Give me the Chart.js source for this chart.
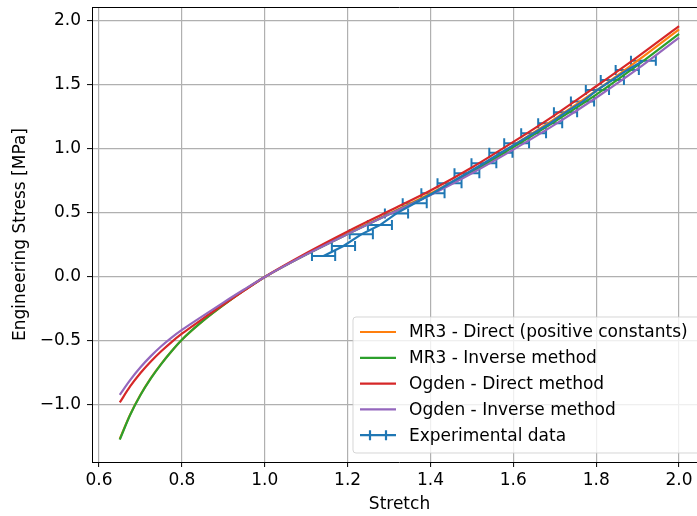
<!DOCTYPE html>
<html>
<head>
<meta charset="utf-8">
<script src="https://cdn.jsdelivr.net/npm/chart.js@4.4.1/dist/chart.umd.min.js"></script>
<style>
  body { margin: 0; overflow: hidden; background: #fff; }
  #wrap { width: 697px; height: 516px; overflow: hidden; position: relative; }
</style>
</head>
<body>
<div id="wrap"><canvas id="stressChart" width="712" height="516"></canvas></div>
<script>
// model curves
const stretch      = [0.65, 0.675, 0.70, 0.725, 0.75, 0.775, 0.80, 0.85, 0.90, 0.95, 1.00, 1.10, 1.20, 1.30, 1.40, 1.50, 1.60, 1.70, 1.80, 1.90, 2.00];
const mr3Direct    = [-1.265, -1.075, -0.92, -0.79, -0.679, -0.58, -0.49, -0.345, -0.22, -0.105, 0, 0.178, 0.34, 0.495, 0.652, 0.83, 1.028, 1.235, 1.455, 1.69, 1.935];
const mr3Inverse   = [-1.27, -1.078, -0.922, -0.792, -0.68, -0.58, -0.49, -0.345, -0.22, -0.105, 0, 0.175, 0.335, 0.49, 0.645, 0.82, 1.015, 1.215, 1.425, 1.655, 1.90];
const ogdenDirect  = [-0.98, -0.855, -0.75, -0.66, -0.58, -0.508, -0.443, -0.327, -0.215, -0.106, 0, 0.185, 0.355, 0.515, 0.675, 0.855, 1.055, 1.265, 1.49, 1.72, 1.96];
const ogdenInverse = [-0.92, -0.805, -0.705, -0.618, -0.541, -0.473, -0.413, -0.305, -0.20, -0.098, 0, 0.175, 0.335, 0.49, 0.64, 0.81, 0.995, 1.19, 1.40, 1.625, 1.87];

// experimental points with horizontal error
const expStretch = [1.142, 1.190, 1.233, 1.278, 1.318, 1.362, 1.406, 1.446, 1.488, 1.529, 1.570, 1.608, 1.649, 1.689, 1.726, 1.767, 1.803, 1.839, 1.875, 1.914];
const expStress  = [0.164, 0.242, 0.333, 0.406, 0.497, 0.576, 0.654, 0.732, 0.810, 0.889, 0.971, 1.044, 1.123, 1.201, 1.286, 1.370, 1.461, 1.539, 1.617, 1.690];
const expErr     = [0.028, 0.028, 0.028, 0.029, 0.028, 0.029, 0.028, 0.029, 0.030, 0.030, 0.028, 0.030, 0.030, 0.029, 0.028, 0.028, 0.028, 0.028, 0.028, 0.030];

const FONT = 'DejaVu Sans';
const FSIZE = 17;
const BLUE = '#1f77b4';

function pts(xs, ys) {
    return xs.map((x, i) => ({ x: x, y: ys[i] }));
}

function curve(label, values, color, order) {
    return {
        label: label,
        data: pts(stretch, values),
        borderColor: color,
        backgroundColor: color,
        borderWidth: 2.2,
        pointRadius: 0,
        cubicInterpolationMode: 'monotone',
        order: order
    };
}

// horizontal error bars with caps, drawn under the lines
const errorBars = {
    id: 'errorBars',
    beforeDatasetsDraw(chart) {
        const ctx = chart.ctx;
        const xs = chart.scales.x, ys = chart.scales.y;
        ctx.save();
        ctx.strokeStyle = BLUE;
        ctx.lineWidth = 2;
        for (let i = 0; i < expStretch.length; i++) {
            const x1 = xs.getPixelForValue(expStretch[i] - expErr[i]);
            const x2 = xs.getPixelForValue(expStretch[i] + expErr[i]);
            const y = ys.getPixelForValue(expStress[i]);
            ctx.beginPath();
            ctx.moveTo(x1, y); ctx.lineTo(x2, y);
            ctx.moveTo(x1, y - 5); ctx.lineTo(x1, y + 5);
            ctx.moveTo(x2, y - 5); ctx.lineTo(x2, y + 5);
            ctx.stroke();
        }
        ctx.restore();
    }
};

// top spine and a matplotlib style legend box in the lower right
const frameAndLegend = {
    id: 'frameAndLegend',
    afterDraw(chart) {
        const ctx = chart.ctx;
        const a = chart.chartArea;
        ctx.save();
        ctx.strokeStyle = '#000';
        ctx.lineWidth = 1;
        ctx.beginPath();
        ctx.moveTo(a.left, a.top + 0.5); ctx.lineTo(a.right, a.top + 0.5);
        ctx.moveTo(a.right - 0.5, a.top); ctx.lineTo(a.right - 0.5, a.bottom);
        ctx.stroke();

        const bx = 353, by = 317, bw = 347, bh = 136, r = 3;
        ctx.beginPath();
        ctx.moveTo(bx + r, by);
        ctx.arcTo(bx + bw, by, bx + bw, by + bh, r);
        ctx.arcTo(bx + bw, by + bh, bx, by + bh, r);
        ctx.arcTo(bx, by + bh, bx, by, r);
        ctx.arcTo(bx, by, bx + bw, by, r);
        ctx.closePath();
        ctx.fillStyle = 'rgba(255,255,255,0.8)';
        ctx.fill();
        ctx.strokeStyle = 'rgba(204,204,204,0.8)';
        ctx.stroke();

        const entries = chart.data.datasets.slice().sort((p, q) => q.order - p.order);
        ctx.font = FSIZE + 'px "' + FONT + '"';
        ctx.textBaseline = 'middle';
        ctx.textAlign = 'left';
        entries.forEach((ds, i) => {
            const y = 332 + i * 25.8;
            ctx.strokeStyle = ds.borderColor;
            ctx.lineWidth = 2.2;
            ctx.beginPath();
            ctx.moveTo(360, y); ctx.lineTo(396, y);
            if (ds.errorBars) {
                ctx.moveTo(370, y - 5); ctx.lineTo(370, y + 5);
                ctx.moveTo(386, y - 5); ctx.lineTo(386, y + 5);
            }
            ctx.stroke();
            ctx.fillStyle = '#000';
            ctx.fillText(ds.label, 409, y + 1);
        });
        ctx.restore();
    }
};

function tickText(v) {
    const s = v.toFixed(1);
    return s.charAt(0) === '-' ? '\u2212' + s.slice(1) : s;
}

const ctx = document.getElementById('stressChart').getContext('2d');
new Chart(ctx, {
    type: 'line',
    data: {
        datasets: [
            curve('MR3 - Direct (positive constants)', mr3Direct, '#ff7f0e', 4),
            curve('MR3 - Inverse method', mr3Inverse, '#2ca02c', 3),
            curve('Ogden - Direct method', ogdenDirect, '#d62728', 2),
            curve('Ogden - Inverse method', ogdenInverse, '#9467bd', 1),
            {
                label: 'Experimental data',
                data: pts(expStretch, expStress),
                borderColor: BLUE,
                backgroundColor: BLUE,
                borderWidth: 2.2,
                pointRadius: 0,
                tension: 0,
                errorBars: true,
                order: 0
            }
        ]
    },
    options: {
        responsive: false,
        devicePixelRatio: 1,
        animation: false,
        layout: { padding: { top: 7, right: 5, left: 0, bottom: 0 } },
        plugins: {
            legend: { display: false },
            tooltip: { enabled: false }
        },
        scales: {
            x: {
                type: 'linear',
                min: 0.583,
                max: 2.0675,
                afterFit: function (scale) {
                    scale.height = 54;
                    scale.paddingLeft = 0;
                    scale.paddingRight = 0;
                },
                border: { color: '#000', width: 1 },
                grid: { color: '#b0b0b0', lineWidth: 1.2, tickColor: '#000', tickLength: 5, tickWidth: 1 },
                ticks: {
                    stepSize: 0.2,
                    includeBounds: false,
                    maxRotation: 0,
                    padding: 3,
                    color: '#000',
                    font: { family: FONT, size: FSIZE },
                    callback: tickText
                },
                title: {
                    display: true,
                    text: 'Stretch',
                    color: '#000',
                    font: { family: FONT, size: FSIZE },
                    padding: { top: 0, bottom: 1 }
                }
            },
            y: {
                type: 'linear',
                min: -1.445,
                max: 2.109,
                afterFit: function (scale) {
                    scale.width = 92;
                    scale.paddingTop = 0;
                    scale.paddingBottom = 0;
                },
                border: { color: '#000', width: 1 },
                grid: { color: '#b0b0b0', lineWidth: 1.2, tickColor: '#000', tickLength: 5, tickWidth: 1 },
                ticks: {
                    stepSize: 0.5,
                    includeBounds: false,
                    padding: 6,
                    color: '#000',
                    font: { family: FONT, size: FSIZE },
                    callback: tickText
                },
                title: {
                    display: true,
                    text: 'Engineering Stress [MPa]',
                    color: '#000',
                    font: { family: FONT, size: FSIZE },
                    padding: { top: 10, bottom: 0 }
                }
            }
        }
    },
    plugins: [errorBars, frameAndLegend]
});
</script>
</body>
</html>
